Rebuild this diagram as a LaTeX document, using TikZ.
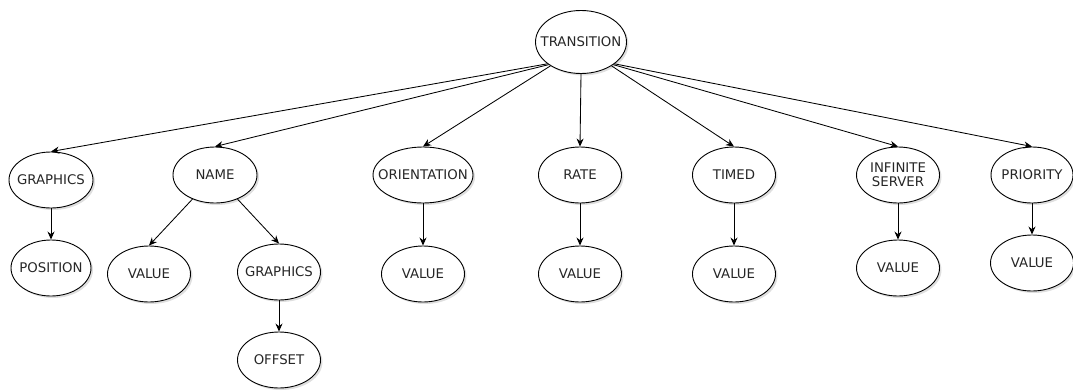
\documentclass[tikz,border=0pt]{standalone}
\usepackage{fontspec}
\setmainfont{DejaVu Sans}
\usetikzlibrary{arrows.meta,shadows,shapes.geometric}
% zero-size label so that the ellipse keeps its given size and the caps sit centred
\newcommand{\lbl}[1]{\makebox[0pt][c]{\raisebox{-5pt}[0pt][0pt]{\begin{tabular}{@{}c@{}}#1\end{tabular}}}}
\begin{document}
\begin{tikzpicture}[x=1pt,y=-1pt,
  elem/.style={ellipse,draw=black,line width=0.9pt,fill=white,
    minimum width=#1,minimum height=56pt,inner sep=0pt,
    font=\fontsize{13.3}{15}\selectfont,text=black!85,
    drop shadow={opacity=0.25,shadow xshift=2pt,shadow yshift=-2pt}},
  elem/.default=83pt,
  link/.style={draw=black,line width=0.85pt,-{Stealth[length=8pt,width=7pt]}}]
\useasboundingbox (0,0) rectangle (1073,391);
% root
\node[elem=91pt,minimum height=63pt] (tr) at (581,42) {\lbl{TRANSITION}};
% first level
\node[elem=84pt] (gr) at (51,180) {\lbl{GRAPHICS}};
\node[elem=84pt] (nm) at (215,175) {\lbl{NAME}};
\node[elem=100pt] (or) at (423,175) {\lbl{ORIENTATION}};
\node[elem] (rt) at (580,175) {\lbl{RATE}};
\node[elem] (tm) at (734,175) {\lbl{TIMED}};
\node[elem] (is) at (898,175) {\lbl{INFINITE\\[-1pt]SERVER}};
\node[elem=82pt] (pr) at (1032,175) {\lbl{PRIORITY}};
% second level
\node[elem=80pt] (pos) at (51,268) {\lbl{POSITION}};
\node[elem] (nv) at (149,274) {\lbl{VALUE}};
\node[elem] (ng) at (279,272) {\lbl{GRAPHICS}};
\node[elem] (ov) at (423,274) {\lbl{VALUE}};
\node[elem] (rv) at (580,274) {\lbl{VALUE}};
\node[elem] (tv) at (734,274) {\lbl{VALUE}};
\node[elem] (iv) at (898,268) {\lbl{VALUE}};
\node[elem] (pv) at (1032,263) {\lbl{VALUE}};
% third level
\node[elem] (off) at (279,360) {\lbl{OFFSET}};
% connectors from the root
\foreach \c/\a in {gr/213,nm/215,or/218} \draw[link] (tr.\a) -- (\c.north);
\draw[link] (tr.south) -- (rt.north);
\foreach \c/\a in {tm/322,is/325,pr/327} \draw[link] (tr.\a) -- (\c.north);
% lower connectors
\draw[link] (gr) -- (pos);
\draw[link] (nm) -- (nv.north);
\draw[link] (nm) -- (ng.north);
\draw[link] (ng) -- (off);
\draw[link] (or) -- (ov);
\draw[link] (rt) -- (rv);
\draw[link] (tm) -- (tv);
\draw[link] (is) -- (iv);
\draw[link] (pr) -- (pv);
\end{tikzpicture}
\end{document}
